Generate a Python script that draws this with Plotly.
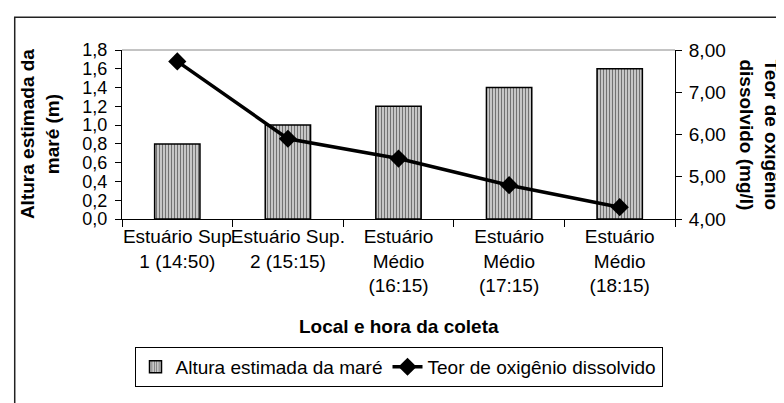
import plotly.graph_objects as go

categories = ["Estuário Sup<br>1 (14:50)", "Estuário Sup.<br>2 (15:15)",
              "Estuário<br>Médio<br>(16:15)", "Estuário<br>Médio<br>(17:15)",
              "Estuário<br>Médio<br>(18:15)"]
altura = [0.8, 1.0, 1.2, 1.4, 1.6]
oxigenio = [7.73, 5.90, 5.43, 4.80, 4.28]

FONT = "Liberation Sans, Arial, sans-serif"
FS = 19
FS_Y = 18

fig = go.Figure()
fig.add_trace(go.Bar(
    x=categories, y=altura, name="Altura estimada da maré",
    marker=dict(color="white", line=dict(color="black", width=1.5),
                pattern=dict(shape="|", fgcolor="black", bgcolor="#e4e4e4",
                             size=3, solidity=0.5)),
    width=0.41,
))
fig.add_trace(go.Scatter(
    x=categories, y=oxigenio, name="Teor de oxigênio dissolvido", yaxis="y2",
    mode="lines+markers", line=dict(color="black", width=3.5),
    marker=dict(symbol="diamond", size=14, color="black"),
))

fig.update_layout(
    width=784, height=403,
    margin=dict(l=114, r=117, t=42, b=192),
    paper_bgcolor="white", plot_bgcolor="white",
    separators=",.",
    font=dict(family=FONT, size=FS, color="black"),
    showlegend=True,
    legend=dict(orientation="h", x=0.5, xanchor="center", y=-0.875, yanchor="middle",
                bordercolor="black", borderwidth=1, font=dict(size=FS),
                itemwidth=30, tracegroupgap=0),
    xaxis=dict(type="category", showline=True, linecolor="black", linewidth=1,
               ticks="outside", ticklen=7, tickcolor="black", tickson="boundaries",
               showgrid=False, tickfont=dict(size=FS), tickangle=0, fixedrange=True),
    yaxis=dict(range=[0, 1.8], dtick=0.2, tickformat=".1f", showline=True,
               linecolor="black", linewidth=1, ticks="outside", ticklen=6,
               tickcolor="black", showgrid=False, zeroline=False,
               ticklabelstandoff=4, tickfont=dict(size=FS_Y)),
    yaxis2=dict(range=[4, 8], dtick=1, tickformat=".2f", overlaying="y", side="right",
                showline=True, linecolor="black", linewidth=1, ticks="outside",
                ticklen=6, tickcolor="black", showgrid=False, zeroline=False,
                ticklabelstandoff=3, tickfont=dict(size=FS)),
    yaxis3=dict(range=[0, 1.8], dtick=0.2, overlaying="y", side="left",
                showticklabels=False, ticks="inside", ticklen=6, tickcolor="black",
                showgrid=False, zeroline=False, showline=False),
    yaxis4=dict(range=[4, 8], dtick=1, overlaying="y", side="right",
                showticklabels=False, ticks="inside", ticklen=6, tickcolor="black",
                showgrid=False, zeroline=False, showline=False),
    xaxis2=dict(range=[-0.5, 4.5], tick0=0.5, dtick=1, overlaying="x",
                showticklabels=False, ticks="inside", ticklen=7, tickcolor="black",
                showgrid=False, zeroline=False, showline=False),
)

fig.add_shape(type="line", xref="x domain", yref="y domain", x0=0, x1=1, y0=1, y1=1,
              line=dict(color="#888888", width=1))
fig.add_shape(type="rect", xref="paper", yref="paper", x0=-0.194, x1=1.25, y0=-1.25, y1=1.194,
              line=dict(color="#222222", width=1.5), fillcolor="rgba(0,0,0,0)", layer="below")

fig.add_annotation(text="<b>Altura estimada da<br>maré (m)</b>", xref="paper", yref="paper",
                   x=-0.149, y=0.5, textangle=-90, showarrow=False,
                   xanchor="center", yanchor="middle", font=dict(size=FS))
fig.add_annotation(text="<b>Teor de oxigênio<br>dissolvido (mg/l)</b>", xref="paper", yref="paper",
                   x=1.152, y=0.5, textangle=90, showarrow=False,
                   xanchor="center", yanchor="middle", font=dict(size=FS))
fig.add_annotation(text="<b>Local e hora da coleta</b>", xref="paper", yref="paper",
                   x=0.5, y=-0.635, showarrow=False, xanchor="center", yanchor="middle",
                   font=dict(size=FS))

fig.write_html("out.html")
